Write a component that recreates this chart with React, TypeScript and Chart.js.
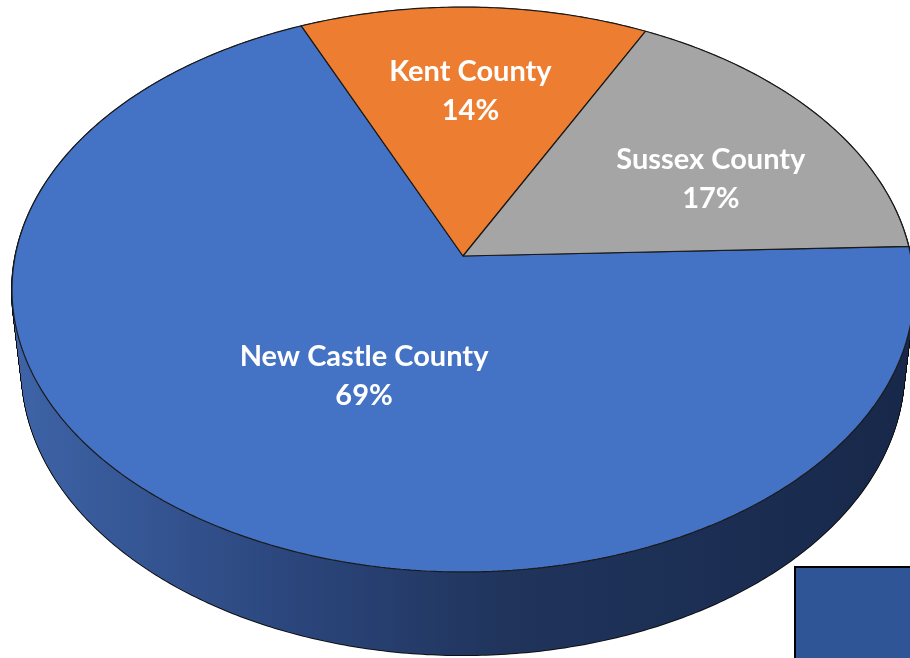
import React, { useEffect, useRef } from 'react';
import { Chart, registerables } from 'chart.js';

Chart.register(...registerables);

// ---- data ----
const COUNTIES = ['New Castle County', 'Kent County', 'Sussex County'];
const SHARES = [69, 14, 17];

// ---- style ----
const TOP_COLORS = ['#4472C4', '#ED7D31', '#A5A5A5'];
const SIDE_COLORS_OTHER = ['#2A4378', '#8A4A1E', '#636363'];
const LABEL_RADIUS = [0.46, 0.64, 0.64];
const LABEL_ANGLE_SHIFT = [-5, 0, 6];

// ---- 3D view (perspective camera looking down on the pie) ----
const VERTEX_X = 463;
const VERTEX_Y = 256;
const FOCAL = 2957;
const DIST = 6.603;
const TILT = (38.45 * Math.PI) / 180;
const DEPTH = 0.234;

type Proj = (x: number, y: number) => [number, number];

function makeProjector(cx: number, cy: number, R: number, z: number): Proj {
  const s = Math.sin(TILT);
  const c = Math.cos(TILT);
  return (px: number, py: number) => {
    const u = (px - cx) / R;
    const v = (py - cy) / R;
    const d = DIST - v * c - z * s;
    return [VERTEX_X + (FOCAL * u) / d, VERTEX_Y + (FOCAL * (v * s - z * c)) / d];
  };
}

function patch(ctx: any, proj: Proj) {
  const P = CanvasRenderingContext2D.prototype;
  ctx.moveTo = (x: number, y: number) => {
    const p = proj(x, y);
    P.moveTo.call(ctx, p[0], p[1]);
  };
  ctx.lineTo = (x: number, y: number) => {
    const p = proj(x, y);
    P.lineTo.call(ctx, p[0], p[1]);
  };
  ctx.arc = (x: number, y: number, r: number, a0: number, a1: number, ccw?: boolean) => {
    const TAU = Math.PI * 2;
    let sweep: number;
    if (!ccw) {
      sweep = a1 - a0;
      if (sweep >= TAU) sweep = TAU;
      else {
        sweep = sweep % TAU;
        if (sweep < 0) sweep += TAU;
      }
    } else {
      sweep = a0 - a1;
      if (sweep >= TAU) sweep = TAU;
      else {
        sweep = sweep % TAU;
        if (sweep < 0) sweep += TAU;
      }
      sweep = -sweep;
    }
    const n = Math.max(1, Math.ceil(Math.abs(sweep) / 0.01));
    for (let i = 0; i <= n; i++) {
      const a = a0 + (sweep * i) / n;
      const p = proj(x + r * Math.cos(a), y + r * Math.sin(a));
      P.lineTo.call(ctx, p[0], p[1]);
    }
  };
}

function unpatch(ctx: any) {
  delete ctx.moveTo;
  delete ctx.lineTo;
  delete ctx.arc;
}

function drawWith(el: any, ctx: any, bg: any, border: string, bw: number) {
  const fake = Object.create(el);
  Object.defineProperty(fake, 'options', {
    value: {
      offset: 0,
      spacing: 0,
      circular: true,
      borderAlign: 'center',
      backgroundColor: bg,
      borderColor: border,
      borderWidth: bw,
      borderJoinStyle: 'round',
      borderRadius: 0,
      borderDash: [],
      borderDashOffset: 0,
      selfJoin: false,
    },
    writable: true,
    configurable: true,
  });
  fake.draw(ctx);
}

const pie3d = {
  id: 'pie3d',
  beforeDatasetsDraw(chart: any) {
    const ctx = chart.ctx;
    const els = chart.getDatasetMeta(0).data;
    if (!els.length) return;
    const { x: cx, y: cy, outerRadius: R } = els[0];
    const grad = ctx.createLinearGradient(10, 0, 910, 0);
    grad.addColorStop(0, '#3E64A8');
    grad.addColorStop(0.3, '#2C477E');
    grad.addColorStop(0.55, '#20345C');
    grad.addColorStop(1, '#17284A');
    const N = 110;
    for (let pass = 0; pass < 2; pass++) {
      for (let j = 0; j < N; j++) {
        const z = -DEPTH + (DEPTH * j) / N;
        patch(ctx, makeProjector(cx, cy, R, z));
        els.forEach((el: any, i: number) => {
          const fill = i === 0 ? grad : SIDE_COLORS_OTHER[i];
          drawWith(el, ctx, fill, '#111111', pass === 0 ? 2 : 0);
        });
        unpatch(ctx);
      }
    }
    patch(ctx, makeProjector(cx, cy, R, 0));
  },
  afterDatasetsDraw(chart: any) {
    const ctx = chart.ctx;
    unpatch(ctx);
    const els = chart.getDatasetMeta(0).data;
    if (!els.length) return;
    const { x: cx, y: cy, outerRadius: R } = els[0];
    const proj = makeProjector(cx, cy, R, 0);
    const total = SHARES.reduce((a, b) => a + b, 0);
    ctx.save();
    ctx.fillStyle = '#FFFFFF';
    ctx.font = 'bold 29px Lato';
    ctx.textAlign = 'center';
    ctx.textBaseline = 'middle';
    els.forEach((el: any, i: number) => {
      const a = (el.startAngle + el.endAngle) / 2 + (LABEL_ANGLE_SHIFT[i] * Math.PI) / 180;
      const r = LABEL_RADIUS[i] * R;
      const p = proj(cx + r * Math.cos(a), cy + r * Math.sin(a));
      const pct = Math.round((SHARES[i] / total) * 100) + '%';
      ctx.fillText(COUNTIES[i], p[0], p[1] - 19);
      ctx.fillText(pct, p[0], p[1] + 20);
    });
    ctx.restore();
  },
};

export default function App() {
  const ref = useRef<HTMLCanvasElement>(null);
  useEffect(() => {
    if (!ref.current) return;
    const chart = new Chart(ref.current, {
      type: 'pie',
      data: {
        labels: COUNTIES,
        datasets: [
          {
            data: SHARES,
            backgroundColor: TOP_COLORS,
            borderColor: '#1A1A1A',
            borderWidth: 1.2,
            clip: false as any,
          },
        ],
      },
      options: {
        responsive: false,
        maintainAspectRatio: false,
        animation: false,
        devicePixelRatio: 1,
        rotation: 88,
        events: [],
        layout: { padding: 0 },
        plugins: {
          legend: { display: false },
          tooltip: { enabled: false },
        },
      },
      plugins: [pie3d],
    });
    return () => chart.destroy();
  }, []);
  return (
    <div
      style={{
        position: 'fixed',
        left: 0,
        top: 0,
        width: 910,
        height: 658,
        overflow: 'hidden',
        background: '#FFFFFF',
      }}
    >
      <canvas ref={ref} width={910} height={658} style={{ display: 'block' }} />
      <div
        style={{
          position: 'absolute',
          left: 794,
          top: 566,
          width: 140,
          height: 120,
          background: '#2F5597',
          border: '2px solid #000',
          boxSizing: 'border-box',
        }}
      />
    </div>
  );
}
